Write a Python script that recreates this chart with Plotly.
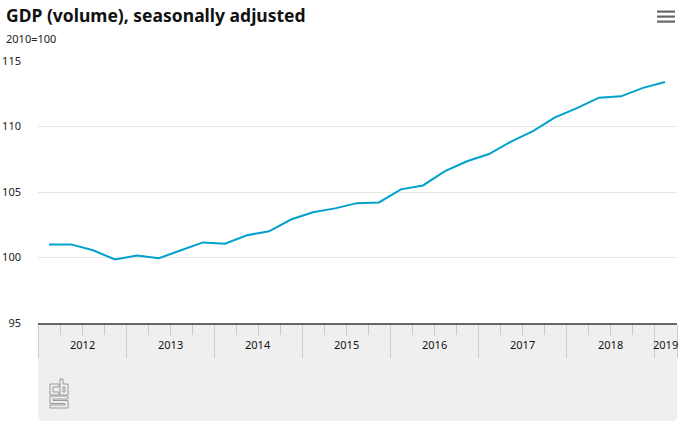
import plotly.graph_objects as go

# ---- data ----
quarters = ["2012Q1","2012Q2","2012Q3","2012Q4","2013Q1","2013Q2","2013Q3","2013Q4",
            "2014Q1","2014Q2","2014Q3","2014Q4","2015Q1","2015Q2","2015Q3","2015Q4",
            "2016Q1","2016Q2","2016Q3","2016Q4","2017Q1","2017Q2","2017Q3","2017Q4",
            "2018Q1","2018Q2","2018Q3","2018Q4","2019Q1"]
gdp = [101.0, 101.0, 100.55, 99.85, 100.15, 99.95, 100.55, 101.15,
       101.05, 101.7, 102.0, 102.9, 103.45, 103.75, 104.15, 104.2,
       105.2, 105.5, 106.6, 107.35, 107.9, 108.85, 109.65, 110.7,
       111.4, 112.2, 112.3, 112.95, 113.4]
years = ["2012","2013","2014","2015","2016","2017","2018","2019"]
y_ticks = [95, 100, 105, 110, 115]

W, H = 686, 427
L, R, T, B = 38, 9, 61, 104
PW, PH = W - L - R, H - T - B

def px(x):
    return (x - L) / PW

def py(y):
    return (H - B - y) / PH

xidx = list(range(len(quarters)))
x_start, x_end = -0.5, -0.5 + PW / 22.0

fig = go.Figure()
fig.add_trace(go.Scatter(x=xidx, y=gdp, mode="lines",
                         line=dict(color="#00a1cd", width=2),
                         text=quarters, hoverinfo="text+y", showlegend=False))

major = [-0.5 + 4 * i for i in range(len(years))] + [x_end]
minor = [q - 0.5 for q in xidx if (q % 4) != 0]

fig.update_xaxes(range=[x_start, x_end], showgrid=False, zeroline=False,
                 showline=True, linecolor="#666666", linewidth=1.5,
                 tickmode="array", tickvals=major, ticktext=[""] * len(major),
                 ticks="outside", ticklen=33, tickcolor="#cccccc", tickwidth=1,
                 minor=dict(tickmode="array", tickvals=minor, ticks="outside",
                            ticklen=10, tickcolor="#cccccc", tickwidth=1),
                 automargin=False, fixedrange=True)
fig.update_yaxes(range=[95, 115], tickvals=y_ticks, showgrid=True,
                 gridcolor="#e6e6e6", gridwidth=1, zeroline=False, showline=False,
                 ticks="", ticklabelstandoff=16, automargin=False,
                 tickfont=dict(family="Noto Sans", size=11, color="#222222"),
                 fixedrange=True)

shapes = []
# grey axis panel with rounded bottom corners
x0, x1 = px(38), px(677)
y0, y1 = py(323), py(421)
rx, ry = 5 / PW, 5 / PH
path = (f"M {x0},{y0} L {x1},{y0} L {x1},{y1+ry} Q {x1},{y1} {x1-rx},{y1} "
        f"L {x0+rx},{y1} Q {x0},{y1} {x0},{y1+ry} Z")
shapes.append(dict(type="path", path=path, xref="paper", yref="paper",
                   fillcolor="#efefef", line=dict(width=0), layer="below"))

# cbs logo
def poly(pts):
    return "M " + " L ".join(f"{px(a)},{py(b)}" for a, b in pts) + " Z"

logo_c = [(50,384),(59,384),(59,387),(53,387),(53,392),(59,392),(59,395),(50,395)]
logo_b = [(60,379),(63,379),(63,384),(68,384),(68,395),(60,395)]
logo_bh = [(63,387),(65,387),(65,392),(63,392)]
logo_s = [(50,396),(68,396),(68,399),(53,399),(53,400.5),(68,400.5),(68,408),
          (50,408),(50,405),(65,405),(65,403.5),(50,403.5)]
for pts in (logo_c, logo_b, logo_bh, logo_s):
    shapes.append(dict(type="path", path=poly(pts), xref="paper", yref="paper",
                       fillcolor="#efefef", line=dict(color="#9a9a9a", width=1)))

# hamburger menu icon
for yy in (10.5, 15.5, 20.5):
    shapes.append(dict(type="rect", xref="paper", yref="paper",
                       x0=px(657), x1=px(675), y0=py(yy), y1=py(yy + 2.2),
                       fillcolor="#666666", line=dict(width=0)))

annotations = [
    dict(text="<b>GDP (volume), seasonally adjusted</b>", xref="paper", yref="paper",
         x=px(4), y=py(1), xanchor="left", yanchor="top", showarrow=False,
         font=dict(family="Noto Sans", size=17.5, color="#111111")),
    dict(text="2010=100", xref="paper", yref="paper",
         x=px(4), y=py(38), xanchor="left", yanchor="middle", showarrow=False,
         font=dict(family="Noto Sans", size=11, color="#222222")),
]
for i, yr in enumerate(years):
    if i < len(years) - 1:
        xc = -0.5 + 4 * i + 2
    else:
        xc = (-0.5 + 4 * i + x_end) / 2
    annotations.append(dict(text=yr, x=xc, xref="x", yref="paper", y=py(344),
                            xanchor="center", yanchor="middle", showarrow=False,
                            font=dict(family="Noto Sans", size=11, color="#111111")))

fig.update_layout(width=W, height=H, margin=dict(l=L, r=R, t=T, b=B),
                  paper_bgcolor="white", plot_bgcolor="white",
                  shapes=shapes, annotations=annotations, showlegend=False)

fig.write_html("out.html", config={"displayModeBar": False},
               post_script="document.body.style.margin='0';document.body.style.overflow='hidden';")
